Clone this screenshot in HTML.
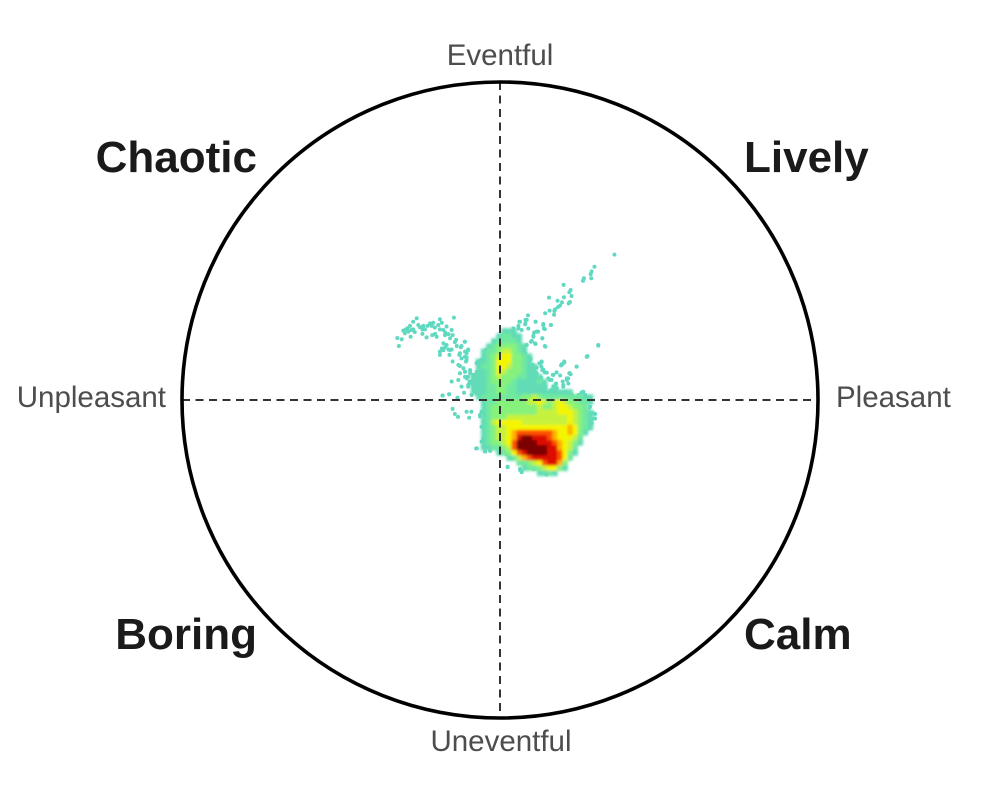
<!DOCTYPE html>
<html>
<head>
<meta charset="utf-8">
<style>
html,body{margin:0;padding:0;background:#fff;}
svg{display:block;}
text{font-family:"Liberation Sans",sans-serif;}
.axis-label{font-size:29.5px;fill:#4d4d4d;}
.quad-label{font-size:44px;font-weight:bold;fill:#1a1a1a;}
</style>
</head>
<body>
<svg id="chart" width="1000" height="800" viewBox="0 0 1000 800" xmlns="http://www.w3.org/2000/svg">
  <defs>
    <filter id="soft" x="-5%" y="-5%" width="110%" height="110%"><feGaussianBlur stdDeviation="1.4"/></filter>
  </defs>
  <rect x="0" y="0" width="1000" height="800" fill="#fff"/>
  <g id="points"></g>
  <g id="density" filter="url(#soft)"></g>
  <line x1="182" y1="400" x2="818" y2="400" stroke="#333" stroke-width="2" stroke-dasharray="8 5.5"/>
  <line x1="500" y1="82" x2="500" y2="718" stroke="#333" stroke-width="2" stroke-dasharray="8 5.5"/>
  <circle cx="500" cy="400" r="318" fill="none" stroke="#000" stroke-width="3.6"/>
  <text class="axis-label" x="500" y="65" text-anchor="middle">Eventful</text>
  <text class="axis-label" x="501" y="751" text-anchor="middle">Uneventful</text>
  <text class="axis-label" x="166" y="407" text-anchor="end">Unpleasant</text>
  <text class="axis-label" x="836" y="407" text-anchor="start">Pleasant</text>
  <text class="quad-label" x="257" y="172" text-anchor="end">Chaotic</text>
  <text class="quad-label" x="744" y="172" text-anchor="start">Lively</text>
  <text class="quad-label" x="257" y="649" text-anchor="end">Boring</text>
  <text class="quad-label" x="744" y="649" text-anchor="start">Calm</text>
</svg>
<script>
const pleasantness = [
-.323,-.309,-.318,-.304,-.299,-.283,-.273,-.262,-.278,-.281,-.257,-.241,-.244,-.231,-.220,-.210,-.194,-.189,-.213,-.199,
-.178,-.168,-.152,-.149,-.157,-.138,-.145,-.111,-.168,-.183,-.178,-.157,-.189,-.159,-.149,-.136,-.121,-.100,-.126,-.105,
-.121,-.131,-.115,-.126,-.110,-.073,-.061,-.100,-.152,-.131,-.121,-.100,-.084,-.073,-.113,-.089,-.073,-.181,-.160,-.134,
-.180,-.160,-.149,-.142,-.132,-.105,-.090,-.097,-.075,-.047,-.031,.024,.063,.068,.107,.147,.257,.268,.262,.281,
.288,.299,.294,.286,-.052,-.063,-.058,-.052,.360,.297,.288,.285,.287,.264,.261,.200,.222,.218,.225,.201,
.154,.181,.195,.220,.216,.189,.182,.173,.171,.156,.142,.170,.088,.080,.112,.061,.080,.136,.160,.138,
.115,.107,.105,.133,.097,.112,.143,.309,.275,.273,.241,.202,.196,.192,.131,.124,.096,.089,.079,.103,
.130,.136,.147,.178,.166,.189,.218,.222,.214,.210,.197,.176,.257,.268,.168,.126,.136,.105,.115,.089,
.010,-.016,-.042,.042,.058,.068,-.290,-.268,-.236,-.205,-.172,-.142,-.094,-.088,-.079,-.066,-.058,-.082,-.046,-.054,
.063,.084,.112,.136,.141,.160,.079,.058,.042,.010,-.016,.000,-.045,-.037,-.100,-.105,-.110,-.068,-.058,-.073,
-.110,-.105,-.094,-.084,-.110,-.105,-.094,-.079,-.068,-.100,-.089,-.058,-.047,-.063,-.047,-.042,-.031,.089,.115,.120,
.105,.100,.110,.133,.141,.084,.079,.094,.089,.131,.126,.115,.133,.141,.152,.129,.100,.105,.079,.068,
.063,.047,.079,.094,.115,.136,.162,.168,.178,.202,.194,.210,.220,.241,.273,.309,.173,.199,.215,.183,
.204,.226,.247,.262,.047,.063,.084,.037,.026,.021,.052,.063,.073,-.073,-.049,-.047,-.031,-.058,-.052,-.063,
-.058,.024,.068,.063,.105,.147,.157,.079,.094,.037,.021,-.042,-.052,-.037,-.042,-.016,.267,.262,.283,.294,
.299,.288,.278,.030,.040,.055,.070,.012,.022,.090,.100,.120,.150,.165,.185,.205,.230,.250,.018,.038,
-.296,-.288,-.273,-.252,-.244,-.228,-.215,-.183,-.189,-.173,-.162,-.204,-.178,-.172,-.162,-.189,-.152,-.128,-.110,-.123,
-.107,-.126,-.110,-.094,-.079,-.096,-.084,-.068,-.063,-.052,-.044,-.037,-.063,-.047,-.031,
.073,.089,.115,.120,.142,.157,.162,.178,.199,.189,.204,.225,.241,.252,.084,.105,.126,.147,.063,.071,
.052,.042,.058,.026
];
const eventfulness = [
.195,.191,.170,.218,.210,.233,.246,.257,.220,.199,.236,.233,.208,.197,.241,.243,.236,.254,.204,.199,
.220,.231,.220,.204,.194,.189,.259,.183,.173,.162,.157,.157,.142,.142,.121,.170,.170,.159,.147,.134,
.131,.110,.100,.084,.089,.117,.121,.073,.058,.063,.042,.047,.073,.089,.023,.016,.021,.014,.018,.007,
.014,.018,-.028,-.044,-.053,-.037,-.037,-.056,-.152,-.162,-.159,-.211,-.220,-.227,-.217,-.234,.024,.016,-.014,-.024,
-.042,-.044,-.058,-.070,-.084,-.052,-.131,-.147,.457,.419,.404,.396,.383,.383,.375,.362,.346,.339,.327,.323,
.322,.312,.307,.308,.304,.297,.292,.285,.280,.281,.273,.268,.266,.252,.246,.246,.241,.239,.236,.225,
.215,.212,.199,.194,.183,.176,.168,.171,.138,.136,.105,.118,.113,.109,.119,.115,.129,.124,.145,.110,
.105,.096,.086,.087,.079,.077,.084,.081,.068,.063,.058,.052,.023,.014,.042,.068,.052,.063,.042,.052,
.206,.183,.157,.225,.233,.220,.226,.214,.222,.228,.212,.182,.092,.060,.035,.104,.050,.030,.078,.012,
.246,.252,.246,.236,.223,.236,.238,.225,.225,.206,.183,.194,.157,.154,.157,.147,.183,.121,.126,.115,
.136,.126,.094,.079,.089,.068,.052,.058,.042,.042,.016,.016,.031,.068,.084,.110,.126,.225,.215,.215,
.202,.186,.178,.194,.170,.173,.147,.126,.121,.121,.115,.102,.094,.087,.068,.070,.089,.068,.079,.121,
.100,.105,.058,.047,.042,.042,.063,.079,.087,.121,.112,.068,.084,.105,.136,.173,.042,.047,.052,.021,
.016,.016,.016,.026,.042,.031,.021,.068,.047,.021,.063,.052,.100,-.152,-.147,-.162,-.160,-.084,-.068,-.047,
-.037,-.210,-.223,-.217,-.215,-.234,-.225,-.199,-.210,-.183,-.171,-.115,-.121,-.126,-.136,-.147,-.010,-.028,-.021,-.042,
-.058,-.073,-.089,.130,.110,.090,.075,.030,.060,.030,.012,.020,.012,.020,.012,.025,.010,.006,.085,.150,
.222,.215,.222,.229,.222,.233,.233,.243,.222,.204,.207,.208,.178,.166,.159,.152,.159,.142,.152,.166,
.121,.107,.073,.084,.079,.058,.042,.052,.079,.089,.100,.115,.037,.021,.042,
.063,.042,.084,.058,.042,.063,.031,.037,.042,.021,.016,.016,.010,.016,.021,.016,.021,.016,.105,.084,
.063,.042,.026,.021
];
const gridPleasantStart = -0.10;
const gridEventfulStart = 0.25;
const gridStep = 0.016;
const densityRows = [
"",
"",
".......111",
"......12211",
".....122221",
"....12333321",
"...122344321",
"...1234553321",
"..11235553321",
"..122355433211",
"..112354333211",
".11123433322111",
".111233332111121",
".111223322111111.1",
".11122332211111111111",
"..12222222233432222222211",
"...1223333334454345433221",
"...123333333334334554332",
"...1233333333344445554321",
"...1233344444444444454321",
"...1245555544444444454321",
"...1234455555555555565321",
"...123445677777776556531",
"...12344568998887655542",
"...12334579999888765431",
"...1122347999999886542",
"......1235789999887531",
"........1246788888752",
"..........2234578863",
"...........122345531",
"..............1121"
];
const densityColors = ["none","#62dcb6","#70e8a0","#86f27c","#c6f23c","#f4f500","#ffb000","#ff5200","#dc0800","#7c0000"];
const pointColor = "#5fd9c0";

const xScale = v => 500 + 318 * v;
const yScale = v => 400 - 318 * v;

const svgNS = "http://www.w3.org/2000/svg";
const densityGroup = document.getElementById("density");
const pointGroup = document.getElementById("points");

pleasantness.forEach((p, i) => {
  const c = document.createElementNS(svgNS, "circle");
  
  
  c.setAttribute("cx", xScale(p).toFixed(2));
  c.setAttribute("cy", yScale(eventfulness[i]).toFixed(2));
  c.setAttribute("r", "2");
  c.setAttribute("fill", pointColor);
  pointGroup.appendChild(c);
});

const cellPx = 318 * gridStep;
densityRows.forEach((row, r) => {
  for (let k = 0; k < row.length; k++) {
    const level = parseInt(row[k], 10);
    if (!level) continue;
    const rect = document.createElementNS(svgNS, "rect");
    
    
    rect.setAttribute("x", (xScale(gridPleasantStart + k * gridStep) - cellPx / 2).toFixed(2));
    rect.setAttribute("y", (yScale(gridEventfulStart - r * gridStep) - cellPx / 2).toFixed(2));
    rect.setAttribute("width", (cellPx + 0.5).toFixed(2));
    rect.setAttribute("height", (cellPx + 0.5).toFixed(2));
    rect.setAttribute("fill", densityColors[level]);
    densityGroup.appendChild(rect);
  }
});
</script>
</body>
</html>
